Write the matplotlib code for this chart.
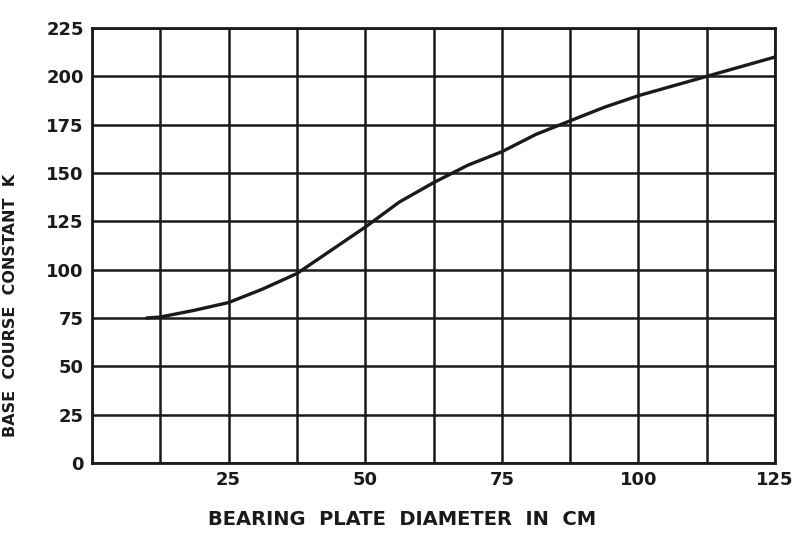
import matplotlib
matplotlib.use("Agg")
import matplotlib.pyplot as plt
import numpy as np

diameter_cm = [10, 12.5, 18.75, 25, 31.25, 37.5, 43.75, 50, 56.25, 62.5, 68.75,
               75, 81.25, 87.5, 93.75, 100, 106.25, 112.5, 118.75, 125]
k_value = [75, 75.5, 79, 83, 90, 98, 110, 122, 135, 145, 154,
           161, 170, 177, 184, 190, 195, 200, 205, 210]

x_ticks = [25, 50, 75, 100, 125]
y_ticks = [0, 25, 50, 75, 100, 125, 150, 175, 200, 225]
x_grid = np.arange(0, 125.1, 12.5)

fig = plt.figure(figsize=(7.95, 5.33), dpi=100)
ax = fig.add_axes([0.1157, 0.1313, 0.8593, 0.8162])

ink = "#1a1a1a"
for xv in x_grid:
    ax.axvline(xv, color=ink, lw=1.8, zorder=1)
for yv in y_ticks:
    ax.axhline(yv, color=ink, lw=1.8, zorder=1)

ax.plot(diameter_cm, k_value, color=ink, lw=2.4, zorder=3,
        solid_capstyle="round", solid_joinstyle="round")

ax.set_xlim(0, 125)
ax.set_ylim(0, 225)
ax.set_xticks(x_ticks)
ax.set_yticks(y_ticks)
ax.tick_params(length=0, pad=6, labelsize=13, colors=ink)
for lab in ax.get_xticklabels() + ax.get_yticklabels():
    lab.set_fontweight("bold")
for s in ax.spines.values():
    s.set_color(ink)
    s.set_linewidth(2)

ax.set_xlabel("BEARING  PLATE  DIAMETER  IN  CM", fontsize=14, fontweight="bold",
              color=ink)
ax.xaxis.set_label_coords(0.454, -0.108)
ax.set_ylabel("BASE  COURSE  CONSTANT  K", fontsize=11.5, fontweight="bold",
              color=ink)
ax.yaxis.set_label_coords(-0.108, 0.363)

fig.savefig("out.png", dpi=100, facecolor="white")
